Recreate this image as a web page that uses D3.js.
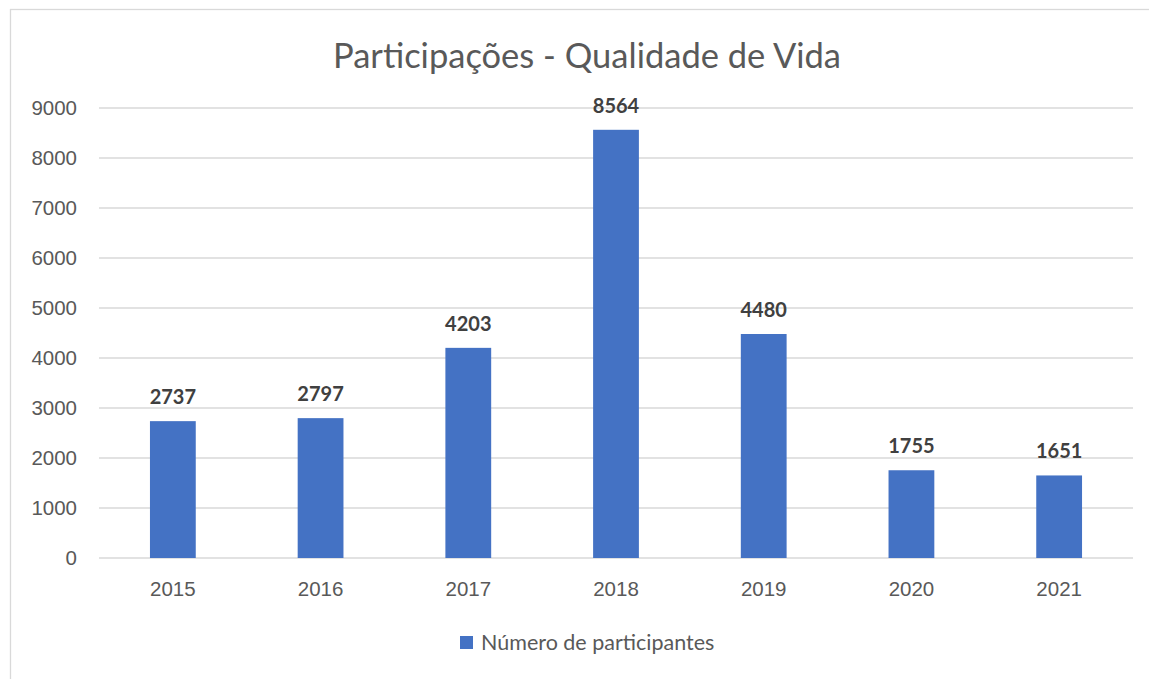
<!DOCTYPE html>
<html lang="pt">
<head>
    <meta charset="UTF-8">
    <title>Participações - Qualidade de Vida</title>
    <style>
        body {
            margin: 0;
            background: #fff;
            font-family: Lato, "Open Sans", sans-serif;
        }

        .grid line {
            stroke: #d9d9d9;
            stroke-width: 1.3px;
        }

        .axis text {
            fill: #595959;
            font-size: 20.5px;
        }
    </style>
</head>
<body>
    <svg id="chart"></svg>
    <script src="https://d3js.org/d3.v7.min.js"></script>
    <script>
        const years = ["2015", "2016", "2017", "2018", "2019", "2020", "2021"];
        const participants = [2737, 2797, 4203, 8564, 4480, 1755, 1651];
        const yTicks = [0, 1000, 2000, 3000, 4000, 5000, 6000, 7000, 8000, 9000];
        const seriesName = "Número de participantes";

        const W = 1149, H = 679;
        const margin = { top: 108, right: 16, bottom: 121, left: 99 };
        const width = W - margin.left - margin.right,
            height = H - margin.top - margin.bottom;

        const svg = d3.select("#chart")
            .attr("width", W)
            .attr("height", H);

        // chart frame
        svg.append("rect")
            .attr("x", 10.5).attr("y", 9.5)
            .attr("width", W + 10).attr("height", H + 10)
            .attr("fill", "none")
            .attr("stroke", "#d9d9d9")
            .attr("stroke-width", 1.3);

        svg.append("text")
            .attr("x", 587).attr("y", 68)
            .attr("text-anchor", "middle")
            .attr("fill", "#595959")
            .style("font-size", "34.5px")
            .text("Participações - Qualidade de Vida");

        const g = svg.append("g")
            .attr("transform", `translate(${margin.left},${margin.top})`);

        const x = d3.scaleBand().domain(years).range([0, width]).paddingInner(0.69).paddingOuter(0.345);
        const y = d3.scaleLinear().domain([0, 9000]).range([height, 0]);

        // gridlines
        g.append("g")
            .attr("class", "grid")
            .selectAll("line")
            .data(yTicks)
            .join("line")
            .attr("x1", 0).attr("x2", width)
            .attr("y1", d => y(d)).attr("y2", d => y(d));

        // y axis labels
        const yAxis = g.append("g")
            .attr("class", "axis")
            .attr("transform", "translate(-22,0)")
            .call(d3.axisLeft(y).tickValues(yTicks).tickFormat(d3.format("d")).tickSize(0).tickPadding(0));
        yAxis.select(".domain").remove();

        // x axis labels
        const xAxis = g.append("g")
            .attr("class", "axis")
            .attr("transform", `translate(0,${height + 23})`)
            .call(d3.axisBottom(x).tickSize(0).tickPadding(0));
        xAxis.select(".domain").remove();

        const data = years.map((yr, i) => ({ year: yr, value: participants[i] }));

        g.selectAll(".bar")
            .data(data)
            .join("rect")
            .attr("class", "bar")
            .attr("x", d => x(d.year))
            .attr("y", d => y(d.value))
            .attr("width", x.bandwidth())
            .attr("height", d => height - y(d.value))
            .attr("fill", "#4472c4");

        g.selectAll(".label")
            .data(data)
            .join("text")
            .attr("class", "label")
            .attr("x", d => x(d.year) + x.bandwidth() / 2)
            .attr("y", d => y(d.value) - 17)
            .attr("text-anchor", "middle")
            .attr("fill", "#404040")
            .style("font-size", "20px")
            .style("font-weight", "bold")
            .text(d => d.value);

        // legend
        const legend = svg.append("g").attr("transform", "translate(460,636)");
        legend.append("rect")
            .attr("width", 13).attr("height", 13)
            .attr("fill", "#4472c4");
        legend.append("text")
            .attr("x", 21).attr("y", 14)
            .attr("fill", "#595959")
            .style("font-size", "21.5px")
            .text(seriesName);
    </script>
</body>
</html>
